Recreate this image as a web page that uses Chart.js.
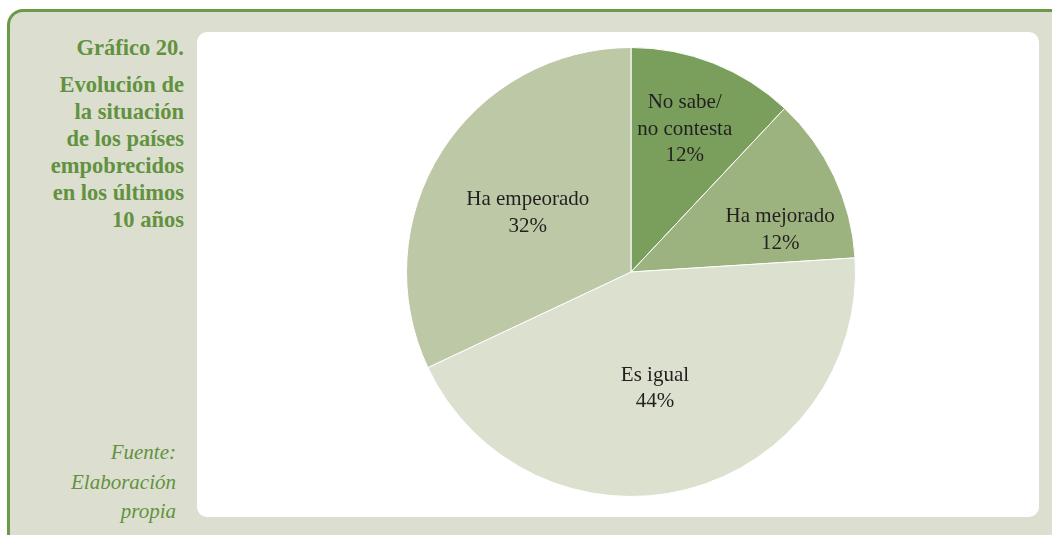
<!DOCTYPE html>
<html>
<head>
<meta charset="utf-8">
<script src="https://cdn.jsdelivr.net/npm/chart.js@4.4.1/dist/chart.umd.min.js"></script>
<style>
  html, body { margin: 0; padding: 0; background: #ffffff; }
  body { width: 1052px; height: 535px; overflow: hidden; position: relative; }
  .frame {
    position: absolute; left: 7px; top: 9px; width: 1100px; height: 600px;
    background: #dcdfcf;
    border-top: 3px solid #6a9a45; border-left: 3px solid #6a9a45;
    border-top-left-radius: 16px;
    box-sizing: border-box;
  }
  .panel {
    position: absolute; left: 197px; top: 32px; width: 842px; height: 485px;
    background: #ffffff; border-radius: 10px;
  }
  .title {
    position: absolute; right: calc(1052px - 184px); top: 34px;
    text-align: right; color: #62923f;
    font-family: "Liberation Serif", "DejaVu Serif", serif; font-weight: bold;
    font-size: 22.5px; line-height: 27px; white-space: nowrap;
  }
  .title .head { margin-bottom: 10px; }
  .source {
    position: absolute; right: calc(1052px - 176px); top: 438px;
    text-align: right; color: #62923f;
    font-family: "Liberation Serif", "DejaVu Serif", serif; font-style: italic;
    font-size: 21px; line-height: 29.5px; white-space: nowrap;
  }
  #myChart { position: absolute; left: 197px; top: 32px; }
</style>
</head>
<body>
<div class="frame"></div>
<div class="panel"></div>
<div class="title">
  <div class="head">Gráfico 20.</div>
  <div>Evolución de</div>
  <div>la situación</div>
  <div>de los países</div>
  <div>empobrecidos</div>
  <div>en los últimos</div>
  <div>10 años</div>
</div>
<div class="source">
  <div>Fuente:</div>
  <div>Elaboración</div>
  <div>propia</div>
</div>
<canvas id="myChart" width="842" height="485"></canvas>
<script>
// Answers, clockwise from 12 o'clock
const categories = ["No sabe/\nno contesta", "Ha mejorado", "Es igual", "Ha empeorado"];
const percentages = [12, 12, 44, 32];
const sliceColors = ["#7a9f5d", "#9db37f", "#dbe0cf", "#bdc9a6"];

// Where each label sits inside its slice: angle shift (degrees) and fraction of radius
const labelPlacement = [
  { shift: -1, frac: 0.68 },
  { shift: 9.5, frac: 0.69 },
  { shift: 2.8, frac: 0.53 },
  { shift: -2.6, frac: 0.53 }
];

// Draws "label + value%" centred inside every slice
const sliceLabels = {
  id: "sliceLabels",
  afterDatasetsDraw(chart) {
    const ctx = chart.ctx;
    const meta = chart.getDatasetMeta(0);
    ctx.save();
    ctx.font = "21px 'Liberation Serif', 'DejaVu Serif', serif";
    ctx.fillStyle = "#231f20";
    ctx.textAlign = "center";
    ctx.textBaseline = "middle";
    meta.data.forEach(function (arc, i) {
      const p = arc.getProps(["x", "y", "startAngle", "endAngle", "outerRadius"], true);
      const mid = (p.startAngle + p.endAngle) / 2 + labelPlacement[i].shift * Math.PI / 180;
      const r = p.outerRadius * labelPlacement[i].frac;
      const cx = p.x + Math.cos(mid) * r;
      const cy = p.y + Math.sin(mid) * r;
      const lines = categories[i].split("\n").concat([percentages[i] + "%"]);
      const lh = 26.5;
      lines.forEach(function (line, k) {
        ctx.fillText(line, cx, cy + (k - (lines.length - 1) / 2) * lh);
      });
    });
    ctx.restore();
  }
};

new Chart(document.getElementById("myChart").getContext("2d"), {
  type: "pie",
  data: {
    labels: categories,
    datasets: [{
      data: percentages,
      backgroundColor: sliceColors,
      borderColor: "#ffffff",
      borderWidth: 1
    }]
  },
  options: {
    responsive: false,
    animation: false,
    layout: { padding: { left: 26, top: 15, bottom: 20, right: 0 } },
    plugins: { legend: { display: false }, tooltip: { enabled: false } }
  },
  plugins: [sliceLabels]
});
</script>
</body>
</html>
